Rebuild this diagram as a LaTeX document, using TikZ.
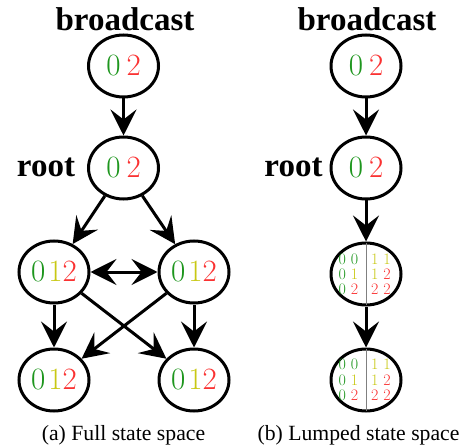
\documentclass[tikz,border=0pt]{standalone}
\usepackage{fontspec}
\setmainfont{Liberation Serif}
\newfontfamily\lmr{Latin Modern Roman}
\usetikzlibrary{shapes.geometric,arrows.meta}
\definecolor{cg}{RGB}{30,150,30}
\definecolor{cy}{RGB}{200,200,20}
\definecolor{cr}{RGB}{250,50,50}
\begin{document}
\begin{tikzpicture}[x=1pt,y=-1pt,
 >={Stealth[length=26pt,width=26pt,inset=10pt]},
 st/.style={ellipse,draw,line width=3pt,minimum width=70pt,minimum height=62pt,inner sep=0pt,font=\lmr\fontsize{31}{31}\selectfont},
 arr/.style={line width=3pt,->},
 lbl/.style={font=\bfseries\fontsize{33}{33}\selectfont,anchor=base,inner sep=0pt},
 captxt/.style={font=\fontsize{21.7}{22}\selectfont,anchor=base,inner sep=0pt},
 sm/.style={font=\lmr\fontsize{16}{16}\selectfont,inner sep=0pt},
 sepline/.style={draw=gray,line width=0.8pt,shorten >=1.5pt,shorten <=1.5pt}
]
\useasboundingbox (0,0) rectangle (476,446);
% ---- (a) full state space
\node[lbl] (bA) at (125,31) {broadcast};
\node[st] (tA) at (123.5,66) {\textcolor{cg}{0}\kern6pt\textcolor{cr}{2}};
\node[st] (rA) at (123.5,168) {\textcolor{cg}{0}\kern6pt\textcolor{cr}{2}};
\node[lbl] (rlA) at (46,177) {root};
\node[st] (mL) at (54,272) {\textcolor{cg}{0}\kern3pt\textcolor{cy}{1}\textcolor{cr}{2}};
\node[st] (mR) at (194,272) {\textcolor{cg}{0}\kern3pt\textcolor{cy}{1}\textcolor{cr}{2}};
\node[st] (bL) at (54,380) {\textcolor{cg}{0}\kern3pt\textcolor{cy}{1}\textcolor{cr}{2}};
\node[st] (bR) at (194,380) {\textcolor{cg}{0}\kern3pt\textcolor{cy}{1}\textcolor{cr}{2}};
\draw[arr] (tA) -- (rA);
\draw[arr] (rA) -- (mL);
\draw[arr] (rA) -- (mR);
\draw[line width=3pt,<->] (mL) -- (mR);
\draw[arr] (mL) -- (bL);
\draw[arr] (mR) -- (bR);
\draw[arr] (mL) -- (bR);
\draw[arr] (mR) -- (bL);
\node[captxt] (capA) at (123.5,440) {(a) Full state space};
% ---- (b) lumped state space
\node[lbl] (bB) at (367,31) {broadcast};
\node[st] (tB) at (366,66) {\textcolor{cg}{0}\kern6pt\textcolor{cr}{2}};
\node[st] (rB) at (366,168) {\textcolor{cg}{0}\kern6pt\textcolor{cr}{2}};
\node[lbl] (rlB) at (293.5,177) {root};
\node[st] (l1) at (366,274) {};
\node[st] (l2) at (366,380) {};
\draw[sepline] (l1.north) -- (l1.south);
\draw[sepline] (l2.north) -- (l2.south);
\draw[arr] (tB) -- (rB);
\draw[arr] (rB) -- (l1);
\draw[arr] (l1) -- (l2);
% lumped contents
\node[sm] (a11) at (348.5,259) {\textcolor{cg}{0 0}};
\node[sm] (a12) at (348.5,274.5) {\textcolor{cg}{0} \textcolor{cy}{1}};
\node[sm] (a13) at (348.5,289.5) {\textcolor{cg}{0} \textcolor{cr}{2}};
\node[sm] (a21) at (381,259) {\textcolor{cy}{1 1}};
\node[sm] (a22) at (381,274.5) {\textcolor{cy}{1} \textcolor{cr}{2}};
\node[sm] (a23) at (381,289.5) {\textcolor{cr}{2 2}};
\node[sm] (b11) at (348.5,364.5) {\textcolor{cg}{0 0}};
\node[sm] (b12) at (348.5,380) {\textcolor{cg}{0} \textcolor{cy}{1}};
\node[sm] (b13) at (348.5,395) {\textcolor{cg}{0} \textcolor{cr}{2}};
\node[sm] (b21) at (381,364.5) {\textcolor{cy}{1 1}};
\node[sm] (b22) at (381,380) {\textcolor{cy}{1} \textcolor{cr}{2}};
\node[sm] (b23) at (381,395) {\textcolor{cr}{2 2}};
\node[captxt] (capB) at (358.5,440) {(b) Lumped state space};
\end{tikzpicture}
\end{document}
